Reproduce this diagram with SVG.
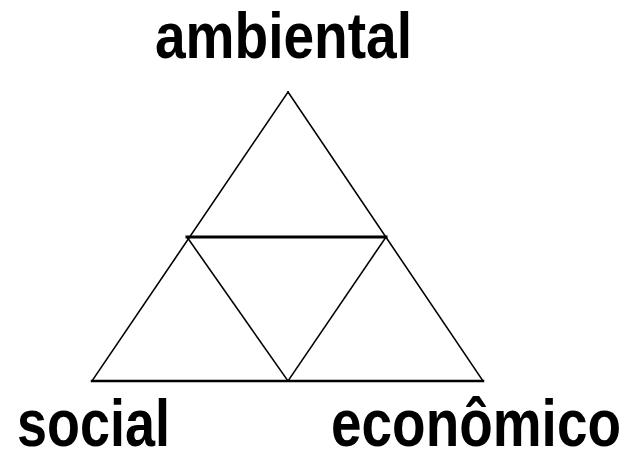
<svg xmlns="http://www.w3.org/2000/svg" width="628" height="450" viewBox="0 0 628 450">
<style>
.t{font-family:"Liberation Sans",Arial,sans-serif;font-weight:bold;font-size:66px;fill:#000}
.l{stroke:#000;fill:none;stroke-width:1.6;stroke-linecap:square}
</style>
<rect width="628" height="450" fill="#fff"/>
<g id="connectors">
<line class="l" x1="288" y1="92" x2="92" y2="381"/>
<line class="l" x1="288" y1="92" x2="483" y2="381"/>
<line class="l" x1="92" y1="381" x2="483" y2="381" style="stroke-width:2.5"/>
<line class="l" x1="187" y1="237" x2="386" y2="237" style="stroke-width:3"/>
<line class="l" x1="187" y1="237" x2="288" y2="381"/>
<line class="l" x1="386" y1="237" x2="288" y2="381"/>
</g>
<g id="ambiental"><text class="t" x="155" y="58" textLength="257" lengthAdjust="spacingAndGlyphs" style="font-size:64px">ambiental</text></g>
<g id="social"><text class="t" x="17" y="446" textLength="153" lengthAdjust="spacingAndGlyphs">social</text></g>
<g id="economico"><text class="t" x="331" y="446" textLength="290" lengthAdjust="spacingAndGlyphs">econômico</text></g>
</svg>
